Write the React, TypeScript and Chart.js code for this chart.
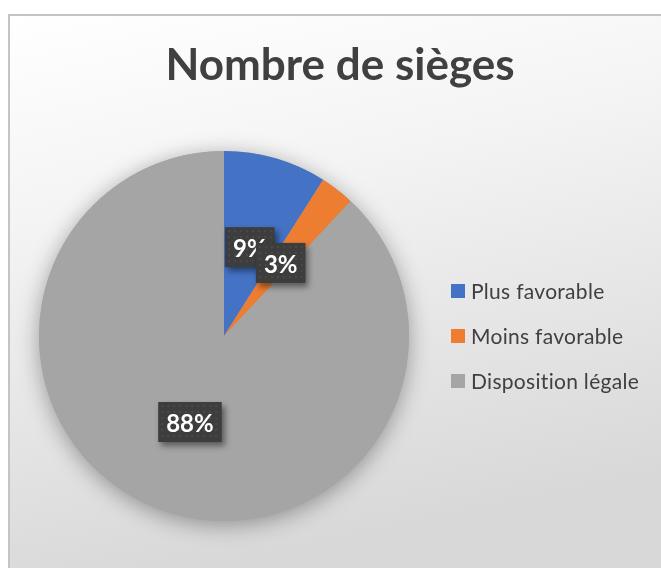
import React, { useEffect, useRef } from "react";
import { Chart, registerables } from "chart.js";

Chart.register(...registerables);

const title = "Nombre de sièges";
const categories = ["Plus favorable", "Moins favorable", "Disposition légale"];
const values = [9, 3, 88];
const colors = ["#4472C4", "#ED7D31", "#A5A5A5"];

const FONT = "Lato, 'Open Sans', sans-serif";

const framePlugin = {
  id: "frame",
  beforeDraw(chart: any) {
    const { ctx, width, height } = chart;
    ctx.save();
    ctx.fillStyle = "#ffffff";
    ctx.fillRect(0, 0, width, height);
    const g = ctx.createLinearGradient(0, 16, 120, height + 20);
    g.addColorStop(0, "#ffffff");
    g.addColorStop(0.35, "#f4f4f4");
    g.addColorStop(1, "#d8d8d8");
    ctx.fillStyle = g;
    ctx.fillRect(10, 16, width - 10, height - 16);
    ctx.fillStyle = "#c4c4c4";
    ctx.fillRect(8, 14, width - 8, 2);
    ctx.fillRect(8, 14, 2, height - 14);
    // title
    ctx.fillStyle = "#404040";
    ctx.font = `bold 44px ${FONT}`;
    ctx.textAlign = "center";
    ctx.textBaseline = "alphabetic";
    ctx.fillText(title, 340, 80);
    // legend
    ctx.font = `21px ${FONT}`;
    (ctx as any).letterSpacing = "0.3px";
    ctx.textAlign = "left";
    ctx.textBaseline = "middle";
    categories.forEach((c, i) => {
      const cy = 291 + i * 45;
      ctx.fillStyle = colors[i];
      ctx.fillRect(451, cy - 7, 14, 14);
      ctx.fillStyle = "#404040";
      ctx.fillText(c, 471, cy + 1);
    });
    (ctx as any).letterSpacing = "0px";
    ctx.restore();
  },
  beforeDatasetsDraw(chart: any) {
    const meta = chart.getDatasetMeta(0);
    const arc = meta.data[0];
    if (!arc) return;
    const { x, y, outerRadius } = arc.getProps(["x", "y", "outerRadius"], true);
    const { ctx } = chart;
    ctx.save();
    ctx.shadowColor = "rgba(0,0,0,0.35)";
    ctx.shadowBlur = 22;
    ctx.shadowOffsetY = 4;
    ctx.fillStyle = "#a5a5a5";
    ctx.beginPath();
    ctx.arc(x, y, outerRadius, 0, Math.PI * 2);
    ctx.fill();
    ctx.restore();
  },
  afterDatasetsDraw(chart: any) {
    const { ctx } = chart;
    const meta = chart.getDatasetMeta(0);
    const total = values.reduce((a, b) => a + b, 0);
    ctx.save();
    ctx.font = `bold 24px ${FONT}`;
    ctx.textAlign = "center";
    ctx.textBaseline = "middle";
    meta.data.forEach((el: any, i: number) => {
      const p = el.tooltipPosition(true);
      const txt = Math.round((values[i] / total) * 100) + "%";
      const w = ctx.measureText(txt).width + 16;
      const h = 40;
      const bx = p.x - w / 2;
      const by = p.y - h / 2;
      ctx.save();
      ctx.shadowColor = "rgba(0,0,0,0.45)";
      ctx.shadowBlur = 6;
      ctx.shadowOffsetX = 3;
      ctx.shadowOffsetY = 4;
      ctx.fillStyle = "#3d3d3d";
      ctx.fillRect(bx, by, w, h);
      ctx.restore();
      ctx.fillStyle = "rgba(255,255,255,0.07)";
      for (let yy = by + 3; yy < by + h - 1; yy += 6) {
        for (let xx = bx + 3; xx < bx + w - 1; xx += 6) {
          ctx.fillRect(xx, yy, 2, 2);
        }
      }
      ctx.fillStyle = "#ffffff";
      ctx.fillText(txt, p.x, p.y + 2);
    });
    ctx.restore();
  },
};

export default function App() {
  const ref = useRef<HTMLCanvasElement | null>(null);
  useEffect(() => {
    if (!ref.current) return;
    const chart = new Chart(ref.current, {
      type: "pie",
      data: {
        labels: categories,
        datasets: [
          {
            data: values,
            backgroundColor: colors,
            borderWidth: 0,
            hoverOffset: 0,
          },
        ],
      },
      options: {
        animation: false,
        responsive: false,
        maintainAspectRatio: false,
        devicePixelRatio: 1,
        layout: { padding: { left: 39, top: 151, right: 252, bottom: 47 } },
        plugins: {
          legend: { display: false },
          title: { display: false },
          tooltip: { enabled: false },
        },
        events: [],
      },
      plugins: [framePlugin],
    });
    return () => chart.destroy();
  }, []);
  return (
    <div style={{ position: "fixed", left: 0, top: 0, width: 661, height: 568 }}>
      <canvas ref={ref} width={661} height={568} style={{ width: 661, height: 568, display: "block" }} />
    </div>
  );
}
